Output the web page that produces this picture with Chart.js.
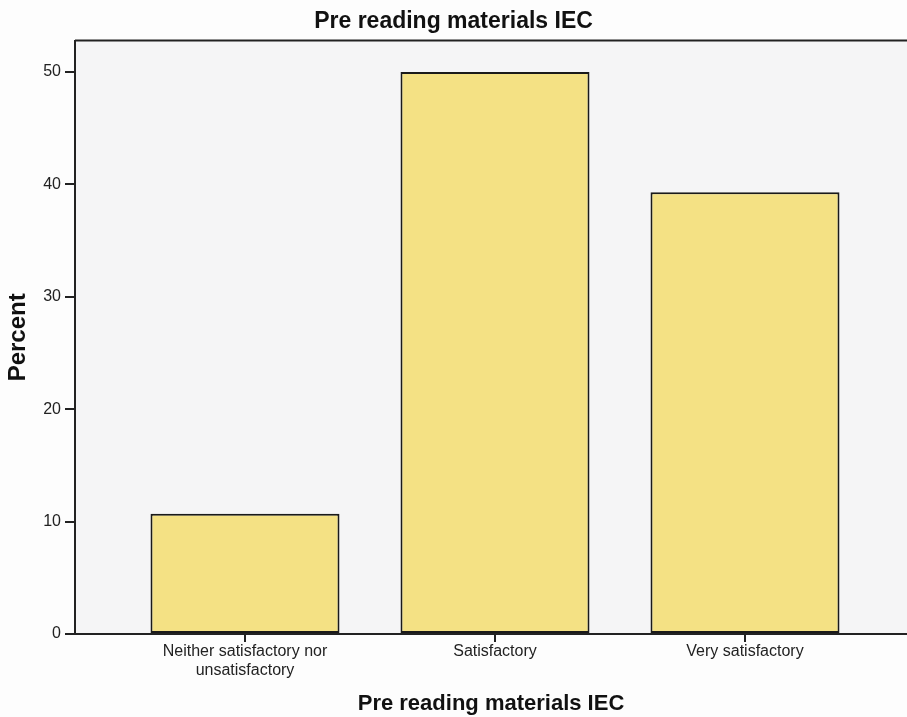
<!DOCTYPE html>
<html>
<head>
<meta charset="utf-8">
<script src="https://cdn.jsdelivr.net/npm/chart.js@4"></script>
<style>
  body { margin: 0; background: #fdfdfd; }
  #wrap { width: 907px; height: 717px; }
</style>
</head>
<body>
<div id="wrap"><canvas id="bar-chart" width="907" height="717"></canvas></div>
<script>
const categories = [['Neither satisfactory nor', 'unsatisfactory'], 'Satisfactory', 'Very satisfactory'];
const percents = [10.7, 50.0, 39.3];
const yTicks = [0, 10, 20, 30, 40, 50];

// light grey plot area + top border line like the SPSS frame
const frame = {
    id: 'frame',
    beforeDraw(chart) {
        const { ctx, chartArea: a } = chart;
        ctx.save();
        ctx.fillStyle = '#f5f5f6';
        ctx.fillRect(a.left, a.top, a.right - a.left, a.bottom - a.top);
        ctx.strokeStyle = '#222';
        ctx.lineWidth = 2;
        ctx.beginPath();
        ctx.moveTo(a.left, a.top);
        ctx.lineTo(a.right, a.top);
        ctx.stroke();
        ctx.restore();
    }
};

const font = 'Arial, "Liberation Sans"';

const ctx = document.getElementById('bar-chart');
new Chart(ctx, {
    type: 'bar',
    data: {
        datasets: [
            {
                label: 'Percent',
                data: percents.map((v, i) => ({ x: i, y: v })),
                backgroundColor: '#f4e184',
                borderColor: '#1a1a1a',
                borderWidth: 2,
                borderSkipped: false,
                barPercentage: 0.756,
                categoryPercentage: 1
            }
        ]
    },
    options: {
        responsive: false,
        animation: false,
        layout: { padding: 0 },
        plugins: {
            legend: { display: false },
            tooltip: { enabled: false },
            title: {
                display: true,
                text: 'Pre reading materials IEC',
                color: '#111',
                font: { family: font, size: 23, weight: 'bold' },
                padding: { top: 8, bottom: 5 }
            }
        },
        scales: {
            x: {
                type: 'linear',
                offset: false,
                min: -0.68,
                max: 2.648,
                afterBuildTicks: s => { s.ticks = categories.map((c, i) => ({ value: i })); },
                afterFit: s => { s.height = 83; },
                ticks: {
                    callback: v => categories[v],
                    color: '#222',
                    font: { family: font, size: 16 },
                    padding: 0,
                    maxRotation: 0,
                    autoSkip: false
                },
                grid: { offset: false, drawOnChartArea: false, color: '#222', tickLength: 8, lineWidth: 2 },
                border: { color: '#222', width: 2 },
                title: {
                    display: true,
                    text: 'Pre reading materials IEC',
                    color: '#111',
                    font: { family: font, size: 22, weight: 'bold' },
                    padding: { top: 0, bottom: 0 }
                }
            },
            y: {
                min: 0,
                max: 52.8,
                afterBuildTicks: s => { s.ticks = yTicks.map(v => ({ value: v })); },
                afterFit: s => { s.width = 75; },
                ticks: {
                    color: '#222',
                    font: { family: font, size: 16 },
                    padding: 4
                },
                grid: { drawOnChartArea: false, color: '#222', tickLength: 10, lineWidth: 2 },
                border: { color: '#222', width: 2 },
                title: {
                    display: true,
                    text: 'Percent',
                    color: '#111',
                    font: { family: font, size: 24, weight: 'bold' },
                    padding: { top: 4 }
                }
            }
        }
    },
    plugins: [frame]
});
</script>
</body>
</html>
